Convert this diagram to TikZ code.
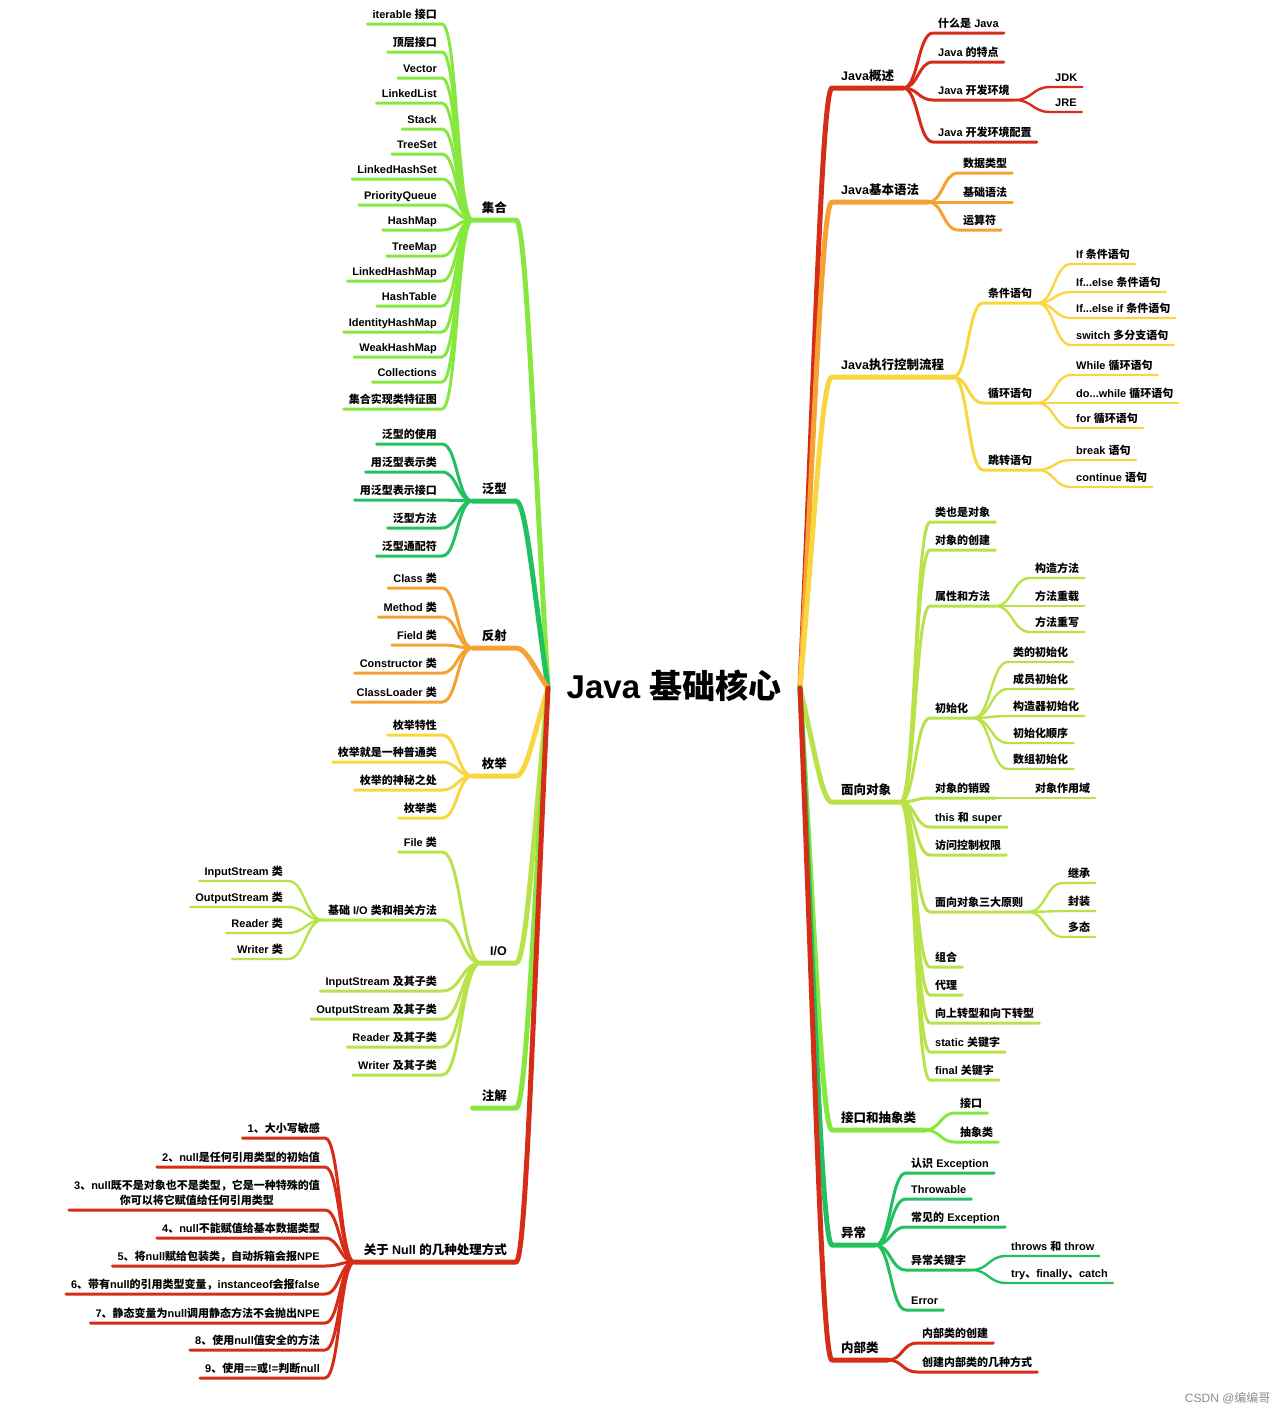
\documentclass[tikz,border=0pt]{standalone}
\usepackage{fontspec}
\setmainfont{Liberation Sans}
\newfontfamily\cjkfont{Noto Sans CJK SC}
\newXeTeXintercharclass\CJKcls
\newcount\cjkc
\cjkc="2E80
\loop
  \XeTeXcharclass\cjkc=\CJKcls
  \advance\cjkc by 1
\ifnum\cjkc<"A000 \repeat
\cjkc="FF00
\loop
  \XeTeXcharclass\cjkc=\CJKcls
  \advance\cjkc by 1
\ifnum\cjkc<"FFF0 \repeat
\XeTeXinterchartoks 0 \CJKcls = {\begingroup\cjkfont}
\XeTeXinterchartoks 4095 \CJKcls = {\begingroup\cjkfont}
\XeTeXinterchartoks \CJKcls 0 = {\endgroup}
\XeTeXinterchartoks \CJKcls 4095 = {\endgroup}
\XeTeXinterchartokenstate=1
\usetikzlibrary{calc}
\definecolor{cRed}{RGB}{214,45,25}
\definecolor{cOrange}{RGB}{246,162,50}
\definecolor{cYellow}{RGB}{248,214,64}
\definecolor{cYG}{RGB}{184,226,72}
\definecolor{cLime}{RGB}{134,232,62}
\definecolor{cGreen}{RGB}{34,192,96}
\tikzset{
  kid/.style={font=\fontsize{11}{13}\selectfont\bfseries, inner xsep=5pt, inner ysep=3.5pt, text height=8pt, text depth=2pt},
  mainlbl/.style={font=\fontsize{12.5}{15}\selectfont\bfseries, inner xsep=9pt, inner ysep=5pt, text height=9pt, text depth=2.5pt},
  lk/.style={line width=3pt, line cap=round, line join=round},
  lg/.style={line width=2.4pt, line cap=round, line join=round},
  lm/.style={line width=5pt, line cap=round, line join=round}
}
\newcommand{\Lkid}[6]{%
  \node[kid,anchor=south east] (#2) at (#3,#4) {#5};
  \coordinate (mm) at ($(#1.south west)!0.5!(#2.south east)$);
  \draw[#6] (#1.south west) .. controls (mm |- #1.south west) and (mm |- #2.south east) .. (#2.south east) -- (#2.south west);
}
\newcommand{\Rkid}[6]{%
  \node[kid,anchor=south west] (#2) at (#3,#4) {#5};
  \coordinate (mm) at ($(#1.south east)!0.5!(#2.south west)$);
  \draw[#6] (#1.south east) .. controls (mm |- #1.south east) and (mm |- #2.south west) .. (#2.south west) -- (#2.south east);
}
\begin{document}
\begin{tikzpicture}[x=1pt,y=-1pt]
\useasboundingbox (0,0) rectangle (1288,1414);
\coordinate (CL) at (548,688);
\coordinate (CR) at (800,688);
\node[font=\fontsize{33}{40}\selectfont\bfseries] (title) at (674,686) {Java 基础核心};

% ---------- left main labels ----------
\node[mainlbl,anchor=south east] (jh) at (516,220) {集合};
\node[mainlbl,anchor=south east] (fx) at (516,501) {泛型};
\node[mainlbl,anchor=south east] (fs) at (516,648) {反射};
\node[mainlbl,anchor=south east] (mj) at (516,776) {枚举};
\node[mainlbl,anchor=south east] (io) at (516,963) {I/O};
\node[mainlbl,anchor=south east] (zj) at (516,1108) {注解};
\node[mainlbl,anchor=south east] (nl) at (516,1262) {关于 Null 的几种处理方式};

\draw[lm,draw=cLime] (CL) .. controls (533,431) and (526,220) .. (jh.south east) -- (jh.south west);
\draw[lm,draw=cGreen] (CL) .. controls (533,586) and (526,501) .. (fx.south east) -- (fx.south west);
\draw[lm,draw=cOrange] (CL) .. controls (533,666) and (526,648) .. (fs.south east) -- (fs.south west);
\draw[lm,draw=cYellow] (CL) .. controls (533,737) and (526,776) .. (mj.south east) -- (mj.south west);
\draw[lm,draw=cYG] (CL) .. controls (533,839) and (526,963) .. (io.south east) -- (io.south west);
\draw[lm,draw=cLime] (CL) .. controls (533,919) and (526,1108) .. (zj.south east) -- (zj.south west);
\draw[lm,draw=cRed] (CL) .. controls (533,1004) and (526,1262) .. (nl.south east) -- (nl.south west);

% ---------- 集合 ----------
\Lkid{jh}{j1}{442}{24}{iterable 接口}{lk,draw=cLime}
\Lkid{jh}{j2}{442}{52}{顶层接口}{lk,draw=cLime}
\Lkid{jh}{j3}{442}{78}{Vector}{lk,draw=cLime}
\Lkid{jh}{j4}{442}{103}{LinkedList}{lk,draw=cLime}
\Lkid{jh}{j5}{442}{129}{Stack}{lk,draw=cLime}
\Lkid{jh}{j6}{442}{154}{TreeSet}{lk,draw=cLime}
\Lkid{jh}{j7}{442}{179}{LinkedHashSet}{lk,draw=cLime}
\Lkid{jh}{j8}{442}{205}{PriorityQueue}{lk,draw=cLime}
\Lkid{jh}{j9}{442}{230}{HashMap}{lk,draw=cLime}
\Lkid{jh}{j10}{442}{256}{TreeMap}{lk,draw=cLime}
\Lkid{jh}{j11}{442}{281}{LinkedHashMap}{lk,draw=cLime}
\Lkid{jh}{j12}{442}{306}{HashTable}{lk,draw=cLime}
\Lkid{jh}{j13}{442}{332}{IdentityHashMap}{lk,draw=cLime}
\Lkid{jh}{j14}{442}{357}{WeakHashMap}{lk,draw=cLime}
\Lkid{jh}{j15}{442}{382}{Collections}{lk,draw=cLime}
\Lkid{jh}{j16}{442}{409}{集合实现类特征图}{lk,draw=cLime}

% ---------- 泛型 ----------
\Lkid{fx}{f1}{442}{444}{泛型的使用}{lk,draw=cGreen}
\Lkid{fx}{f2}{442}{472}{用泛型表示类}{lk,draw=cGreen}
\Lkid{fx}{f3}{442}{500}{用泛型表示接口}{lk,draw=cGreen}
\Lkid{fx}{f4}{442}{528}{泛型方法}{lk,draw=cGreen}
\Lkid{fx}{f5}{442}{556}{泛型通配符}{lk,draw=cGreen}

% ---------- 反射 ----------
\Lkid{fs}{s1}{442}{588}{Class 类}{lk,draw=cOrange}
\Lkid{fs}{s2}{442}{617}{Method 类}{lk,draw=cOrange}
\Lkid{fs}{s3}{442}{645}{Field 类}{lk,draw=cOrange}
\Lkid{fs}{s4}{442}{673}{Constructor 类}{lk,draw=cOrange}
\Lkid{fs}{s5}{442}{702}{ClassLoader 类}{lk,draw=cOrange}

% ---------- 枚举 ----------
\Lkid{mj}{m1}{442}{735}{枚举特性}{lk,draw=cYellow}
\Lkid{mj}{m2}{442}{762}{枚举就是一种普通类}{lk,draw=cYellow}
\Lkid{mj}{m3}{442}{790}{枚举的神秘之处}{lk,draw=cYellow}
\Lkid{mj}{m4}{442}{818}{枚举类}{lk,draw=cYellow}

% ---------- I/O ----------
\Lkid{io}{i1}{442}{852}{File 类}{lk,draw=cYG}
\Lkid{io}{iob}{442}{920}{基础 I/O 类和相关方法}{lk,draw=cYG}
\Lkid{io}{i3}{442}{991}{InputStream 及其子类}{lk,draw=cYG}
\Lkid{io}{i4}{442}{1019}{OutputStream 及其子类}{lk,draw=cYG}
\Lkid{io}{i5}{442}{1047}{Reader 及其子类}{lk,draw=cYG}
\Lkid{io}{i6}{442}{1075}{Writer 及其子类}{lk,draw=cYG}
\Lkid{iob}{b1}{288}{881}{InputStream 类}{lg,draw=cYG}
\Lkid{iob}{b2}{288}{907}{OutputStream 类}{lg,draw=cYG}
\Lkid{iob}{b3}{288}{933}{Reader 类}{lg,draw=cYG}
\Lkid{iob}{b4}{288}{959}{Writer 类}{lg,draw=cYG}

% ---------- Null ----------
\Lkid{nl}{n1}{325}{1138}{1、大小写敏感}{lk,draw=cRed}
\Lkid{nl}{n2}{325}{1167}{2、null是任何引用类型的初始值}{lk,draw=cRed}
\Lkid{nl}{n3}{325}{1210}{{\fontsize{11}{15}\selectfont\begin{tabular}[b]{@{}c@{}}3、null既不是对象也不是类型，它是一种特殊的值\\你可以将它赋值给任何引用类型\end{tabular}}}{lk,draw=cRed}
\Lkid{nl}{n4}{325}{1238}{4、null不能赋值给基本数据类型}{lk,draw=cRed}
\Lkid{nl}{n5}{325}{1266}{5、将null赋给包装类，自动拆箱会报NPE}{lk,draw=cRed}
\Lkid{nl}{n6}{325}{1294}{6、带有null的引用类型变量，instanceof会报false}{lk,draw=cRed}
\Lkid{nl}{n7}{325}{1323}{7、静态变量为null调用静态方法不会抛出NPE}{lk,draw=cRed}
\Lkid{nl}{n8}{325}{1350}{8、使用null值安全的方法}{lk,draw=cRed}
\Lkid{nl}{n9}{325}{1378}{9、使用==或!=判断null}{lk,draw=cRed}

% ---------- right main labels ----------
\node[mainlbl,anchor=south west] (gs) at (832,88) {Java概述};
\node[mainlbl,anchor=south west] (yf) at (832,202) {Java基本语法};
\node[mainlbl,anchor=south west] (lc) at (832,377) {Java执行控制流程};
\node[mainlbl,anchor=south west] (dx) at (832,802) {面向对象};
\node[mainlbl,anchor=south west] (jk) at (832,1130) {接口和抽象类};
\node[mainlbl,anchor=south west] (yc) at (832,1245) {异常};
\node[mainlbl,anchor=south west] (nb) at (832,1360) {内部类};

\draw[lm,draw=cRed] (CR) .. controls (815,358) and (822,88) .. (gs.south west) -- (gs.south east);
\draw[lm,draw=cOrange] (CR) .. controls (815,421) and (822,202) .. (yf.south west) -- (yf.south east);
\draw[lm,draw=cYellow] (CR) .. controls (815,517) and (822,377) .. (lc.south west) -- (lc.south east);
\draw[lm,draw=cYG] (CR) .. controls (815,751) and (822,802) .. (dx.south west) -- (dx.south east);
\draw[lm,draw=cLime] (CR) .. controls (815,931) and (822,1130) .. (jk.south west) -- (jk.south east);
\draw[lm,draw=cGreen] (CR) .. controls (815,994) and (822,1245) .. (yc.south west) -- (yc.south east);
\draw[lm,draw=cRed] (CR) .. controls (815,1058) and (822,1360) .. (nb.south west) -- (nb.south east);

% ---------- Java概述 ----------
\Rkid{gs}{g1}{933}{33}{什么是 Java}{lk,draw=cRed}
\Rkid{gs}{g2}{933}{62}{Java 的特点}{lk,draw=cRed}
\Rkid{gs}{g3}{933}{100}{Java 开发环境}{lk,draw=cRed}
\Rkid{gs}{g4}{933}{142}{Java 开发环境配置}{lk,draw=cRed}
\Rkid{g3}{g31}{1050}{87}{JDK}{lg,draw=cRed}
\Rkid{g3}{g32}{1050}{112}{JRE}{lg,draw=cRed}

% ---------- Java基本语法 ----------
\Rkid{yf}{y1}{958}{173}{数据类型}{lk,draw=cOrange}
\Rkid{yf}{y2}{958}{202}{基础语法}{lk,draw=cOrange}
\Rkid{yf}{y3}{958}{230}{运算符}{lk,draw=cOrange}

% ---------- Java执行控制流程 ----------
\Rkid{lc}{c1}{983}{303}{条件语句}{lk,draw=cYellow}
\Rkid{lc}{c2}{983}{403}{循环语句}{lk,draw=cYellow}
\Rkid{lc}{c3}{983}{470}{跳转语句}{lk,draw=cYellow}
\Rkid{c1}{c11}{1071}{264}{If 条件语句}{lg,draw=cYellow}
\Rkid{c1}{c12}{1071}{292}{If...else 条件语句}{lg,draw=cYellow}
\Rkid{c1}{c13}{1071}{318}{If...else if 条件语句}{lg,draw=cYellow}
\Rkid{c1}{c14}{1071}{345}{switch 多分支语句}{lg,draw=cYellow}
\Rkid{c2}{c21}{1071}{375}{While 循环语句}{lg,draw=cYellow}
\Rkid{c2}{c22}{1071}{403}{do...while 循环语句}{lg,draw=cYellow}
\Rkid{c2}{c23}{1071}{428}{for 循环语句}{lg,draw=cYellow}
\Rkid{c3}{c31}{1071}{460}{break 语句}{lg,draw=cYellow}
\Rkid{c3}{c32}{1071}{487}{continue 语句}{lg,draw=cYellow}

% ---------- 面向对象 ----------
\Rkid{dx}{d1}{930}{522}{类也是对象}{lk,draw=cYG}
\Rkid{dx}{d2}{930}{550}{对象的创建}{lk,draw=cYG}
\Rkid{dx}{d3}{930}{606}{属性和方法}{lk,draw=cYG}
\Rkid{dx}{d4}{930}{718}{初始化}{lk,draw=cYG}
\Rkid{dx}{d5}{930}{798}{对象的销毁}{lk,draw=cYG}
\Rkid{dx}{d6}{930}{827}{this 和 super}{lk,draw=cYG}
\Rkid{dx}{d7}{930}{855}{访问控制权限}{lk,draw=cYG}
\Rkid{dx}{d8}{930}{912}{面向对象三大原则}{lk,draw=cYG}
\Rkid{dx}{d9}{930}{967}{组合}{lk,draw=cYG}
\Rkid{dx}{d10}{930}{995}{代理}{lk,draw=cYG}
\Rkid{dx}{d11}{930}{1023}{向上转型和向下转型}{lk,draw=cYG}
\Rkid{dx}{d12}{930}{1052}{static 关键字}{lk,draw=cYG}
\Rkid{dx}{d13}{930}{1080}{final 关键字}{lk,draw=cYG}
\Rkid{d3}{d31}{1030}{578}{构造方法}{lg,draw=cYG}
\Rkid{d3}{d32}{1030}{606}{方法重载}{lg,draw=cYG}
\Rkid{d3}{d33}{1030}{632}{方法重写}{lg,draw=cYG}
\Rkid{d4}{d41}{1008}{662}{类的初始化}{lg,draw=cYG}
\Rkid{d4}{d42}{1008}{689}{成员初始化}{lg,draw=cYG}
\Rkid{d4}{d43}{1008}{716}{构造器初始化}{lg,draw=cYG}
\Rkid{d4}{d44}{1008}{743}{初始化顺序}{lg,draw=cYG}
\Rkid{d4}{d45}{1008}{769}{数组初始化}{lg,draw=cYG}
\Rkid{d5}{d51}{1030}{798}{对象作用域}{lg,draw=cYG}
\Rkid{d8}{d81}{1063}{883}{继承}{lg,draw=cYG}
\Rkid{d8}{d82}{1063}{911}{封装}{lg,draw=cYG}
\Rkid{d8}{d83}{1063}{937}{多态}{lg,draw=cYG}

% ---------- 接口和抽象类 ----------
\Rkid{jk}{k1}{955}{1113}{接口}{lk,draw=cLime}
\Rkid{jk}{k2}{955}{1142}{抽象类}{lk,draw=cLime}

% ---------- 异常 ----------
\Rkid{yc}{e1}{906}{1173}{认识 Exception}{lk,draw=cGreen}
\Rkid{yc}{e2}{906}{1199}{Throwable}{lk,draw=cGreen}
\Rkid{yc}{e3}{906}{1227}{常见的 Exception}{lk,draw=cGreen}
\Rkid{yc}{e4}{906}{1270}{异常关键字}{lk,draw=cGreen}
\Rkid{yc}{e5}{906}{1310}{Error}{lk,draw=cGreen}
\Rkid{e4}{e41}{1006}{1256}{throws 和 throw}{lg,draw=cGreen}
\Rkid{e4}{e42}{1006}{1283}{try、finally、catch}{lg,draw=cGreen}

% ---------- 内部类 ----------
\Rkid{nb}{r1}{917}{1343}{内部类的创建}{lk,draw=cRed}
\Rkid{nb}{r2}{917}{1372}{创建内部类的几种方式}{lk,draw=cRed}

\node[font=\fontsize{12}{14}\selectfont, text=black!45, anchor=east] (wm) at (1274,1398) {CSDN @编编哥};
\end{tikzpicture}
\end{document}
